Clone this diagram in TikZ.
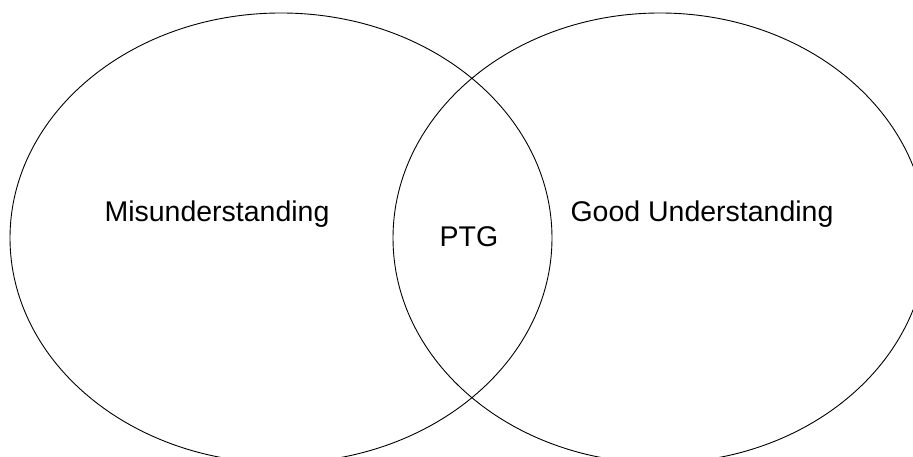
\documentclass[tikz,border=0pt]{standalone}
\usepackage{fontspec}
\setmainfont{Liberation Sans}
\begin{document}
\begin{tikzpicture}[x=1pt,y=1pt,
  circ/.style={draw=black,line width=0.9pt},
  lbl/.style={font=\fontsize{28.5}{34}\selectfont,anchor=base,inner sep=0pt}]
\useasboundingbox (0,0) rectangle (913,457);
\clip (0,0) rectangle (913,457);
\fill[white] (0,0) rectangle (913,457);
\draw[circ] (281,219) ellipse [x radius=271, y radius=225];
\draw[circ] (660,219) ellipse [x radius=267, y radius=225];
\node[lbl] (mis) at (217,235.3) {Misunderstanding};
\node[lbl] (good) at (702,235.3) {Good Understanding};
\node[lbl] (ptg) at (469,210.3) {PTG};
\end{tikzpicture}
\end{document}
